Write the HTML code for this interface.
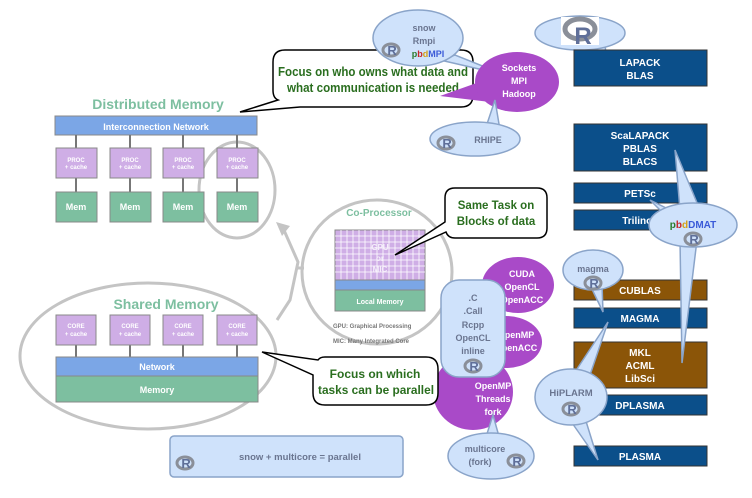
<!DOCTYPE html>
<html><head><meta charset="utf-8"><style>
body{margin:0;background:#fff}
svg{display:block}
text{font-family:"Liberation Sans",sans-serif;font-weight:bold}
</style></head><body>
<svg width="752" height="498" viewBox="0 0 752 498" xmlns="http://www.w3.org/2000/svg">
<defs>
<g id="R"><ellipse cx="0" cy="0" rx="8" ry="6" fill="none" stroke="#8a8f99" stroke-width="3"/><text x="1" y="5" font-size="13" fill="#5f6f99" text-anchor="middle">R</text></g>
</defs>
<g fill="none" stroke="#c4c4c4" stroke-width="3">
<ellipse cx="237" cy="190" rx="38" ry="48"/>
<ellipse cx="377" cy="272" rx="75" ry="72"/>
<ellipse cx="148" cy="356" rx="128" ry="73"/>
<polyline points="283,228 298,262 290,300 277,320"/>
<line x1="298" y1="268" x2="304" y2="268"/>
</g>
<polygon points="276,222 290,226 282,236" fill="#c4c4c4"/>

<text x="158" y="109" font-size="14" fill="#7dbfa0" text-anchor="middle">Distributed Memory</text>
<rect x="55" y="116" width="202" height="19" fill="#7ba6e6" stroke="#888"/>
<text x="156" y="130" font-size="9" fill="#fff" text-anchor="middle">Interconnection Network</text>
<g stroke="#777" stroke-width="2"><line x1="76" y1="135" x2="76" y2="192"/><line x1="130" y1="135" x2="130" y2="192"/><line x1="183" y1="135" x2="183" y2="192"/><line x1="237" y1="135" x2="237" y2="192"/></g>
<g stroke="#888" fill="#cfaee6">
<rect x="56" y="148" width="41" height="30"/><rect x="110" y="148" width="41" height="30"/><rect x="163" y="148" width="41" height="30"/><rect x="217" y="148" width="41" height="30"/></g>
<g stroke="#888" fill="#7dbfa0">
<rect x="56" y="192" width="41" height="30"/><rect x="110" y="192" width="41" height="30"/><rect x="163" y="192" width="41" height="30"/><rect x="217" y="192" width="41" height="30"/></g>
<g font-size="6" fill="#fff" text-anchor="middle">
<text x="76" y="162">PROC</text><text x="76" y="169">+ cache</text>
<text x="130" y="162">PROC</text><text x="130" y="169">+ cache</text>
<text x="183" y="162">PROC</text><text x="183" y="169">+ cache</text>
<text x="237" y="162">PROC</text><text x="237" y="169">+ cache</text></g>
<g font-size="9" fill="#fff" text-anchor="middle">
<text x="76" y="210">Mem</text><text x="130" y="210">Mem</text><text x="183" y="210">Mem</text><text x="237" y="210">Mem</text></g>

<path d="M285,50 H461 Q473,50 473,62 V95 Q473,107 461,107 H300 L240,112 L278,100 Q273,98 273,90 V62 Q273,50 285,50Z" fill="#fff" stroke="#000" stroke-width="1.5"/>
<text x="278" y="76" font-size="12.5" fill="#2a6e1f" textLength="190" lengthAdjust="spacingAndGlyphs">Focus on who owns what data and</text>
<text x="287" y="92" font-size="12.5" fill="#2a6e1f" textLength="172" lengthAdjust="spacingAndGlyphs">what communication is needed</text>

<g fill="#cfe2fb" stroke="#8aa4c9" stroke-width="1.5">
<path d="M440,60 L505,75 L455,55Z"/>
<ellipse cx="418" cy="38" rx="45" ry="28"/>
</g>
<text x="424" y="31" font-size="9" fill="#6a7590" text-anchor="middle">snow</text>
<text x="424" y="44" font-size="9" fill="#6a7590" text-anchor="middle">Rmpi</text>
<text x="428" y="57" font-size="9" text-anchor="middle"><tspan fill="#2a7a2a">p</tspan><tspan fill="#c62828">b</tspan><tspan fill="#d4a017">d</tspan><tspan fill="#3a5ad8">MPI</tspan></text>
<use href="#R" x="391" y="50"/>
<g fill="#a94ac8">
<path d="M485,80 L440,96 L490,102Z"/>
<ellipse cx="517" cy="82" rx="42" ry="30"/></g>
<g font-size="9" fill="#fff" text-anchor="middle"><text x="519" y="71">Sockets</text><text x="519" y="84">MPI</text><text x="519" y="97">Hadoop</text></g>
<g fill="#cfe2fb" stroke="#8aa4c9" stroke-width="1.5">
<path d="M486,127 L495,100 L500,130Z"/>
<ellipse cx="475" cy="139" rx="45" ry="17"/></g>
<text x="488" y="143" font-size="9" fill="#6a7590" text-anchor="middle">RHIPE</text>
<use href="#R" x="446" y="143"/>

<g fill="#cfe2fb" stroke="#8aa4c9" stroke-width="1.5">
<path d="M590,45 L607,63 L605,45Z"/>
<ellipse cx="580" cy="33" rx="45" ry="17"/></g>
<rect x="561" y="17" width="38" height="28" fill="#fff"/>
<ellipse cx="580" cy="29" rx="15" ry="10" fill="none" stroke="#8a8f99" stroke-width="5"/>
<text x="583" y="44" font-size="24" fill="#5f6f99" text-anchor="middle">R</text>

<g stroke="#333" stroke-width="1">
<rect x="574" y="50" width="133" height="36" fill="#0b4f8a"/>
<rect x="574" y="124" width="133" height="47" fill="#0b4f8a"/>
<rect x="574" y="183" width="133" height="20" fill="#0b4f8a"/>
<rect x="574" y="210" width="133" height="20" fill="#0b4f8a"/>
<rect x="574" y="280" width="133" height="20" fill="#8b5508"/>
<rect x="574" y="308" width="133" height="20" fill="#0b4f8a"/>
<rect x="574" y="342" width="133" height="46" fill="#8b5508"/>
<rect x="574" y="395" width="133" height="20" fill="#0b4f8a"/>
<rect x="574" y="446" width="133" height="20" fill="#0b4f8a"/></g>
<g font-size="10" fill="#fff" text-anchor="middle">
<text x="640" y="66">LAPACK</text><text x="640" y="79">BLAS</text>
<text x="640" y="139">ScaLAPACK</text><text x="640" y="152">PBLAS</text><text x="640" y="165">BLACS</text>
<text x="640" y="197">PETSc</text><text x="640" y="224">Trilinos</text>
<text x="640" y="294">CUBLAS</text><text x="640" y="322">MAGMA</text>
<text x="640" y="356">MKL</text><text x="640" y="369">ACML</text><text x="640" y="382">LibSci</text>
<text x="640" y="409">DPLASMA</text><text x="640" y="460">PLASMA</text></g>

<g fill="#cfe2fb" stroke="#8aa4c9" stroke-width="1.5">
<path d="M675,150 L700,210 L680,210Z"/>
<path d="M650,200 L670,210 L665,215Z"/>
<path d="M680,240 L682,363 L697,240Z"/>
<ellipse cx="693" cy="225" rx="44" ry="22"/></g>
<text x="693" y="228" font-size="10" text-anchor="middle"><tspan fill="#2a7a2a">p</tspan><tspan fill="#c62828">b</tspan><tspan fill="#d4a017">d</tspan><tspan fill="#3a5ad8">DMAT</tspan></text>
<use href="#R" x="693" y="239"/>

<g fill="#cfe2fb" stroke="#8aa4c9" stroke-width="1.5">
<path d="M590,285 L603,312 L602,284Z"/>
<ellipse cx="593" cy="270" rx="30" ry="20"/></g>
<text x="593" y="272" font-size="9" fill="#6a7590" text-anchor="middle">magma</text>
<use href="#R" x="593" y="283"/>
<g fill="#cfe2fb" stroke="#8aa4c9" stroke-width="1.5">
<path d="M575,372 L608,322 L590,375Z"/>
<path d="M570,420 L598,460 L585,418Z"/>
<ellipse cx="571" cy="397" rx="36" ry="28"/></g>
<text x="571" y="396" font-size="9.5" fill="#6a7590" text-anchor="middle">HiPLARM</text>
<use href="#R" x="571" y="409"/>

<g fill="#a94ac8">
<ellipse cx="518" cy="285" rx="36" ry="28"/>
<ellipse cx="506" cy="342" rx="36" ry="26"/>
<path d="M440,380 L430,380 L445,395Z"/>
<ellipse cx="473" cy="392" rx="40" ry="38"/></g>
<g font-size="9" fill="#fff" text-anchor="middle">
<text x="522" y="277">CUDA</text><text x="522" y="290">OpenCL</text><text x="522" y="303">OpenACC</text>
<text x="516" y="338">OpenMP</text><text x="516" y="351">OpenACC</text>
<text x="493" y="389">OpenMP</text><text x="493" y="402">Threads</text><text x="493" y="415">fork</text></g>
<g fill="#cfe2fb" stroke="#8aa4c9" stroke-width="1.5">
<path d="M485,440 L493,415 L500,440Z"/>
<ellipse cx="491" cy="456" rx="43" ry="23"/></g>
<text x="485" y="452" font-size="9" fill="#6a7590" text-anchor="middle">multicore</text>
<text x="480" y="465" font-size="9" fill="#6a7590" text-anchor="middle">(fork)</text>
<use href="#R" x="516" y="461"/>
<rect x="441" y="280" width="64" height="97" rx="18" fill="#cfe2fb" stroke="#8aa4c9" stroke-width="1.5"/>
<g font-size="9" fill="#6a7590" text-anchor="middle">
<text x="473" y="301">.C</text><text x="473" y="314">.Call</text><text x="473" y="328">Rcpp</text><text x="473" y="341">OpenCL</text><text x="473" y="354">inline</text></g>
<use href="#R" x="473" y="366"/>

<text x="379" y="216" font-size="10" fill="#7dbfa0" text-anchor="middle">Co-Processor</text>
<rect x="335" y="230" width="90" height="50" fill="#cfaee6" stroke="#888"/>
<g stroke="#fff" stroke-width="0.8">
<path d="M341,230V280M347,230V280M353,230V280M359,230V280M365,230V280M371,230V280M377,230V280M383,230V280M389,230V280M395,230V280M401,230V280M407,230V280M413,230V280M419,230V280"/>
<path d="M335,236H425M335,242H425M335,248H425M335,254H425M335,260H425M335,266H425M335,272H425"/></g>
<g font-size="8" fill="#f4eefa" text-anchor="middle"><text x="380" y="250">GPU</text><text x="380" y="261">or</text><text x="380" y="272">MIC</text></g>
<rect x="335" y="280" width="90" height="10" fill="#7ba6e6" stroke="#888"/>
<rect x="335" y="290" width="90" height="21" fill="#7dbfa0" stroke="#888"/>
<text x="380" y="304" font-size="7" fill="#fff" text-anchor="middle">Local Memory</text>
<text x="333" y="328" font-size="6" fill="#777" font-weight="normal">GPU: Graphical Processing</text>
<text x="333" y="343" font-size="6" fill="#777" font-weight="normal">MIC: Many Integrated Core</text>
<path d="M455,188 H537 Q547,188 547,198 V228 Q547,238 537,238 H455 Q448,238 446,232 L395,255 L445,222 V198 Q445,188 455,188Z" fill="#fff" stroke="#000" stroke-width="1.5"/>
<text x="496" y="209" font-size="11.5" fill="#2a6e1f" text-anchor="middle">Same Task on</text>
<text x="496" y="225" font-size="11.5" fill="#2a6e1f" text-anchor="middle">Blocks of data</text>

<text x="166" y="309" font-size="14" fill="#7dbfa0" text-anchor="middle">Shared Memory</text>
<g stroke="#777" stroke-width="2"><line x1="76" y1="345" x2="76" y2="357"/><line x1="130" y1="345" x2="130" y2="357"/><line x1="183" y1="345" x2="183" y2="357"/><line x1="237" y1="345" x2="237" y2="357"/></g>
<g stroke="#888" fill="#cfaee6">
<rect x="56" y="315" width="40" height="30"/><rect x="110" y="315" width="40" height="30"/><rect x="163" y="315" width="40" height="30"/><rect x="217" y="315" width="40" height="30"/></g>
<g font-size="6" fill="#fff" text-anchor="middle">
<text x="76" y="328">CORE</text><text x="76" y="336">+ cache</text>
<text x="130" y="328">CORE</text><text x="130" y="336">+ cache</text>
<text x="183" y="328">CORE</text><text x="183" y="336">+ cache</text>
<text x="237" y="328">CORE</text><text x="237" y="336">+ cache</text></g>
<rect x="56" y="357" width="202" height="19" fill="#7ba6e6" stroke="#888"/>
<rect x="56" y="376" width="202" height="26" fill="#7dbfa0" stroke="#888"/>
<text x="157" y="370" font-size="9" fill="#fff" text-anchor="middle">Network</text>
<text x="157" y="393" font-size="9" fill="#fff" text-anchor="middle">Memory</text>
<path d="M325,357 H426 Q438,357 438,369 V393 Q438,405 426,405 H325 Q313,405 313,393 V375 L262,352 L318,360 Q320,357 325,357Z" fill="#fff" stroke="#000" stroke-width="1.5"/>
<text x="375" y="378" font-size="12" fill="#2a6e1f" text-anchor="middle">Focus on which</text>
<text x="318" y="394" font-size="12" fill="#2a6e1f" textLength="116" lengthAdjust="spacingAndGlyphs">tasks can be parallel</text>

<rect x="170" y="436" width="233" height="41" rx="4" fill="#cfe2fb" stroke="#8aa4c9" stroke-width="1.5"/>
<use href="#R" x="185" y="463"/>
<text x="300" y="460" font-size="9.5" fill="#6a7590" text-anchor="middle">snow + multicore = parallel</text>
</svg>
</body></html>
